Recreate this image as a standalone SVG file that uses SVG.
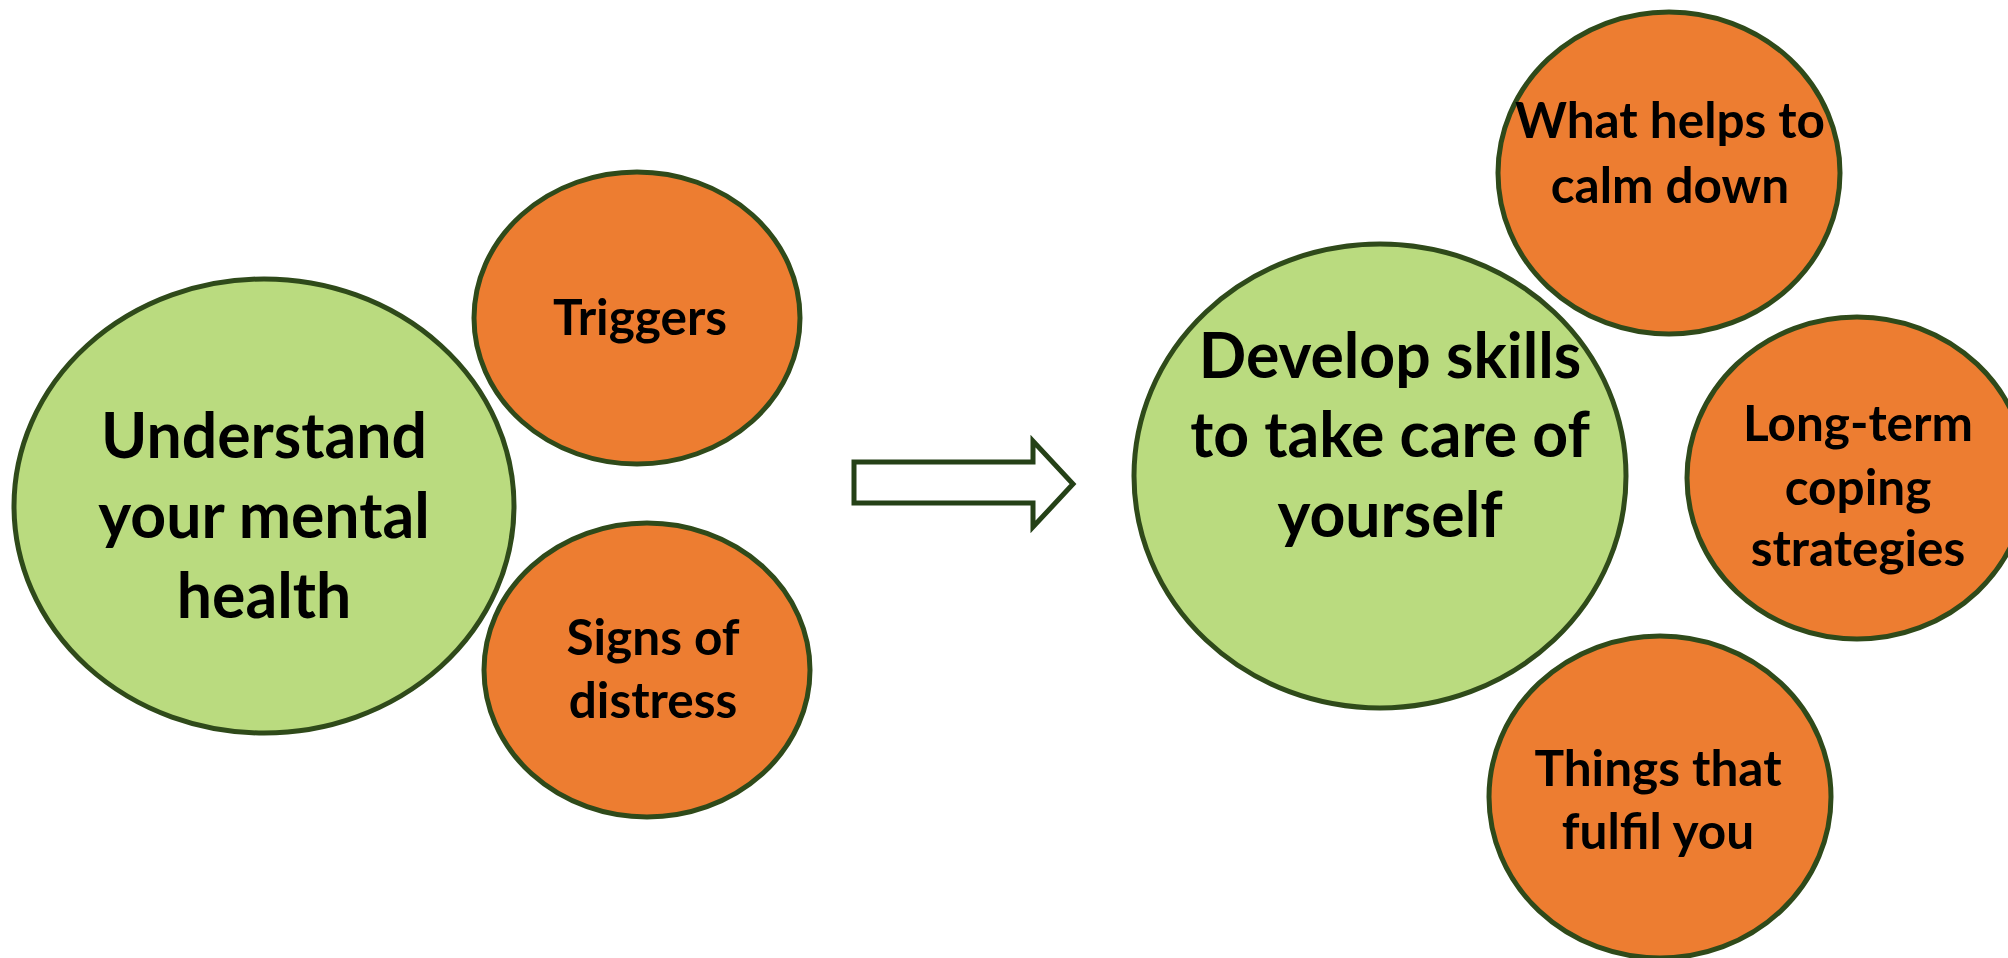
<svg xmlns="http://www.w3.org/2000/svg" width="2008" height="958" viewBox="0 0 2008 958">
<style>
.big{fill:#BADB7F;stroke:#2F4A1A;stroke-width:5}
.small{fill:#ED7D31;stroke:#2F4A1A;stroke-width:5}
text{font-family:Lato,"Open Sans",sans-serif;font-weight:700;fill:#000;text-anchor:middle}
.t1{font-size:62.5px}
.t2{font-size:49.5px}
</style>
<rect width="2008" height="958" fill="#fff"/>
<g id="connectors">
<path d="M854,462 H1033 V441 L1073,484 L1033,527 V503 H854 Z" fill="#fff" stroke="#254117" stroke-width="5"/>
</g>
<g id="understand">
<ellipse class="big" cx="264" cy="506" rx="250" ry="227"/>
<text class="t1" x="264" y="458">Understand</text>
<text class="t1" x="264" y="538">your mental</text>
<text class="t1" x="264" y="618">health</text>
</g>
<g id="triggers">
<ellipse class="small" cx="637" cy="318" rx="163" ry="146"/>
<text class="t2" x="640" y="335">Triggers</text>
</g>
<g id="signs">
<ellipse class="small" cx="647" cy="670" rx="163" ry="147"/>
<text class="t2" x="653" y="655">Signs of</text>
<text class="t2" x="653" y="718">distress</text>
</g>
<g id="develop">
<ellipse class="big" cx="1380" cy="476" rx="246" ry="232"/>
<text class="t1" x="1390" y="378">Develop skills</text>
<text class="t1" x="1390" y="457">to take care of</text>
<text class="t1" x="1390" y="537">yourself</text>
</g>
<g id="calm">
<ellipse class="small" cx="1669" cy="173" rx="171" ry="161"/>
<text class="t2" x="1670" y="138">What helps to</text>
<text class="t2" x="1670" y="203">calm down</text>
</g>
<g id="longterm">
<ellipse class="small" cx="1857" cy="478" rx="170" ry="161"/>
<text class="t2" x="1858" y="441">Long-term</text>
<text class="t2" x="1858" y="505">coping</text>
<text class="t2" x="1858" y="566">strategies</text>
</g>
<g id="fulfil">
<ellipse class="small" cx="1660" cy="797" rx="171" ry="161"/>
<text class="t2" x="1658" y="786">Things that</text>
<text class="t2" x="1658" y="849">fulfil you</text>
</g>
</svg>
